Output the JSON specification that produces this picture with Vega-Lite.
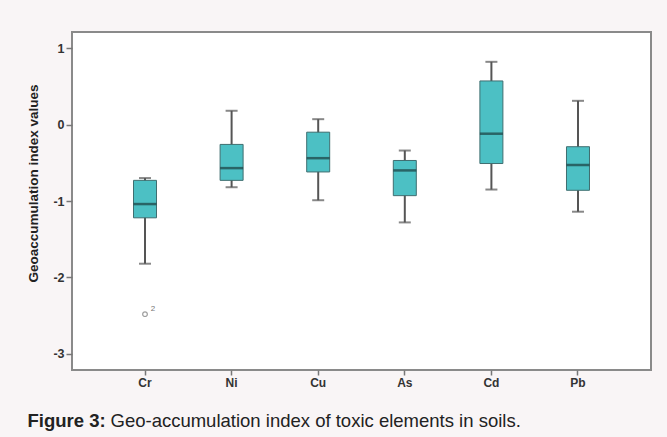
{
  "$schema": "https://vega.github.io/schema/vega-lite/v6.json",
  "width": 579,
  "height": 338,
  "autosize": {"type": "none"},
  "padding": {"left": 72, "top": 32, "right": 16, "bottom": 67},
  "background": "#f9f5f6",
  "config": {
    "font": "Liberation Sans",
    "view": {"stroke": "#8a8a8a", "strokeWidth": 2, "fill": "#ffffff"}
  },
  "datasets": {
    "boxes": [
      {"element": "Cr", "lower": -1.82, "q1": -1.22, "median": -1.04, "q3": -0.73, "upper": -0.70},
      {"element": "Ni", "lower": -0.82, "q1": -0.73, "median": -0.57, "q3": -0.26, "upper": 0.18},
      {"element": "Cu", "lower": -0.99, "q1": -0.62, "median": -0.44, "q3": -0.10, "upper": 0.07},
      {"element": "As", "lower": -1.28, "q1": -0.93, "median": -0.60, "q3": -0.47, "upper": -0.34},
      {"element": "Cd", "lower": -0.85, "q1": -0.51, "median": -0.12, "q3": 0.57, "upper": 0.82},
      {"element": "Pb", "lower": -1.14, "q1": -0.86, "median": -0.53, "q3": -0.29, "upper": 0.31}
    ],
    "outliers": [
      {"element": "Cr", "value": -2.48, "case": "2"}
    ]
  },
  "resolve": {"axis": {"x": "independent"}},
  "layer": [
    {
      "data": {"name": "boxes"},
      "mark": {"type": "rule", "color": "#555555", "strokeWidth": 2},
      "encoding": {
        "x": {
          "field": "element", "type": "nominal",
          "sort": ["Cr", "Ni", "Cu", "As", "Cd", "Pb"],
          "scale": {"paddingInner": 0, "paddingOuter": 0.343},
          "axis": {
            "orient": "bottom", "labelAngle": 0, "domain": false,
            "tickColor": "#777777", "tickSize": 5, "tickWidth": 1.5,
            "labelFontWeight": "bold", "labelFontSize": 12, "labelColor": "#333333", "labelPadding": 2,
            "title": "Figure 3:", "titleFontSize": 18.5, "titleFontWeight": "bold", "titleColor": "#222222",
            "titleX": -45, "titleY": 56, "titleAlign": "left", "titleBaseline": "alphabetic", "titleAnchor": null
          }
        },
        "y": {
          "field": "lower", "type": "quantitative",
          "scale": {"domain": [-3.21, 1.21], "nice": false, "zero": false},
          "axis": {
            "values": [-3, -2, -1, 0, 1], "grid": false, "domain": false,
            "labelExpr": "datum.value < 0 ? '-' + abs(datum.value) : '' + datum.value",
            "tickColor": "#777777", "tickSize": 6, "tickWidth": 1.5,
            "labelFontWeight": "bold", "labelFontSize": 12.5, "labelColor": "#333333", "labelPadding": 2,
            "title": "Geoaccumulation index values", "titleFontSize": 13.5, "titleFontWeight": "bold",
            "titleColor": "#222222", "titleAngle": -90, "titleX": -35, "titleY": 151,
            "titleAlign": "center", "titleBaseline": "alphabetic"
          }
        },
        "y2": {"field": "upper"}
      }
    },
    {
      "data": {"name": "boxes"},
      "mark": {"type": "tick", "color": "#555555", "size": 12, "thickness": 2},
      "encoding": {
        "x": {"field": "element", "type": "nominal", "sort": ["Cr", "Ni", "Cu", "As", "Cd", "Pb"], "axis": null},
        "y": {"field": "lower", "type": "quantitative"}
      }
    },
    {
      "data": {"name": "boxes"},
      "mark": {"type": "tick", "color": "#555555", "size": 12, "thickness": 2},
      "encoding": {
        "x": {"field": "element", "type": "nominal", "sort": ["Cr", "Ni", "Cu", "As", "Cd", "Pb"], "axis": null},
        "y": {"field": "upper", "type": "quantitative"}
      }
    },
    {
      "data": {"name": "boxes"},
      "mark": {"type": "bar", "fill": "#4cc0c4", "stroke": "#3f6e70", "strokeWidth": 1, "size": 23},
      "encoding": {
        "x": {"field": "element", "type": "nominal", "sort": ["Cr", "Ni", "Cu", "As", "Cd", "Pb"], "axis": null},
        "y": {"field": "q1", "type": "quantitative"},
        "y2": {"field": "q3"}
      }
    },
    {
      "data": {"name": "boxes"},
      "mark": {"type": "tick", "color": "#1b3d3f", "size": 23, "thickness": 2.5},
      "encoding": {
        "x": {
          "field": "element", "type": "nominal", "sort": ["Cr", "Ni", "Cu", "As", "Cd", "Pb"],
          "axis": {
            "orient": "top", "labels": false, "ticks": false, "domain": false,
            "title": "Geo-accumulation index of toxic elements in soils.",
            "titleFontSize": 18.5, "titleFontWeight": "normal", "titleColor": "#222222",
            "titleX": 38, "titleY": 394, "titleAlign": "left", "titleBaseline": "alphabetic", "titleAnchor": null
          }
        },
        "y": {"field": "median", "type": "quantitative"}
      }
    },
    {
      "data": {"name": "outliers"},
      "mark": {"type": "point", "shape": "circle", "filled": false, "size": 22, "stroke": "#777777", "strokeWidth": 1.2},
      "encoding": {
        "x": {"field": "element", "type": "nominal", "sort": ["Cr", "Ni", "Cu", "As", "Cd", "Pb"], "axis": null},
        "y": {"field": "value", "type": "quantitative"}
      }
    },
    {
      "data": {"name": "outliers"},
      "mark": {"type": "text", "dx": 8, "dy": -5, "fontSize": 8, "color": "#777777"},
      "encoding": {
        "x": {"field": "element", "type": "nominal", "sort": ["Cr", "Ni", "Cu", "As", "Cd", "Pb"], "axis": null},
        "y": {"field": "value", "type": "quantitative"},
        "text": {"field": "case"}
      }
    }
  ]
}
